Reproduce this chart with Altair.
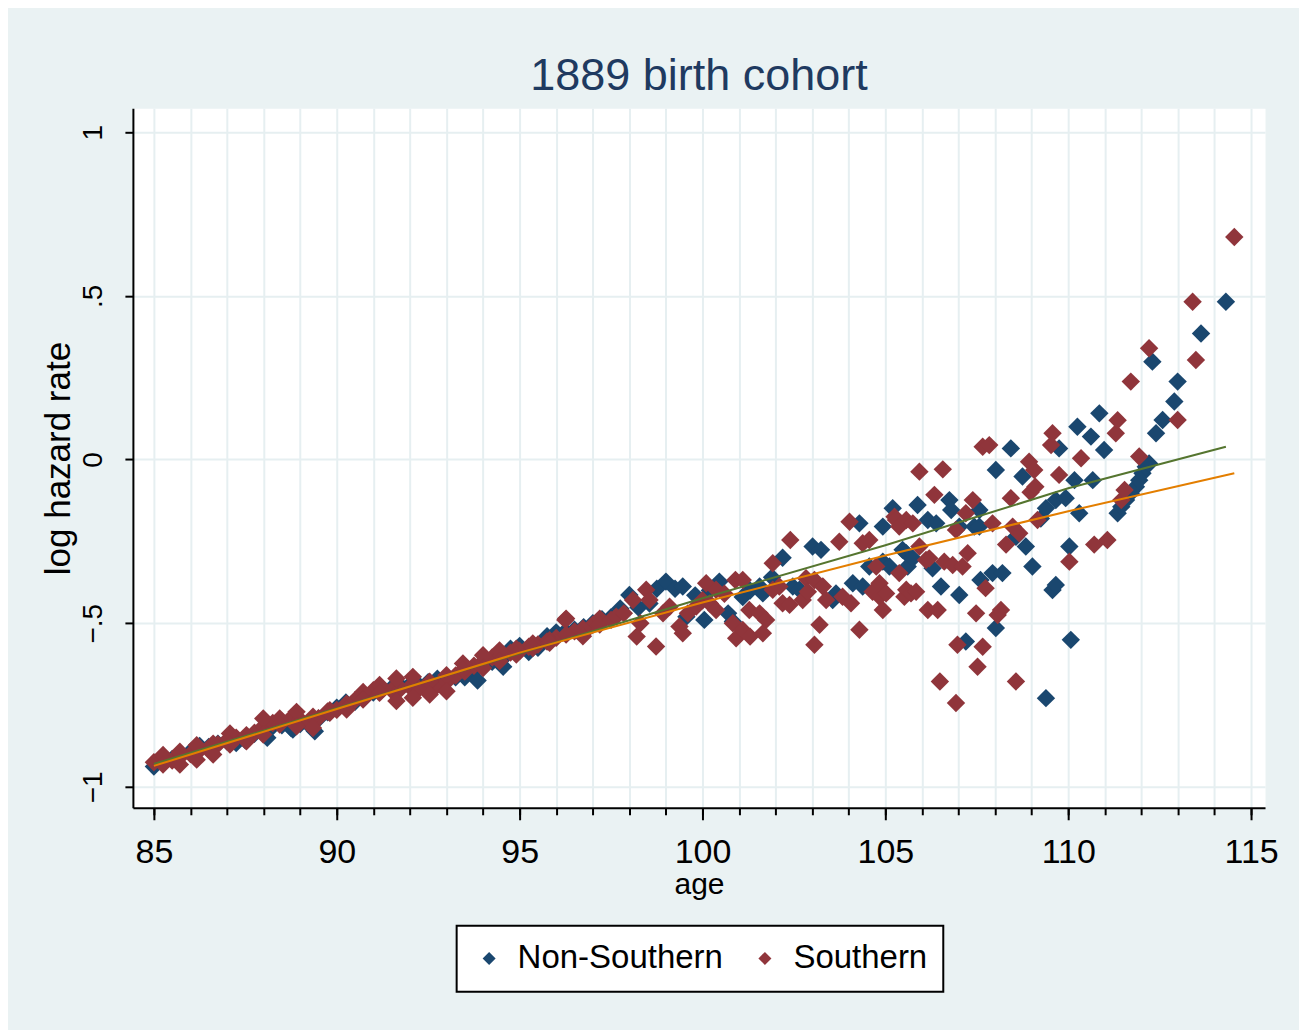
import altair as alt
import pandas as pd

# ---------------- data ----------------
groups = ["Non-Southern", "Southern"]
group_colors = ["#1a476f", "#90353b"]

ns_points = [
    (85.0, -0.938), (85.25, -0.922), (85.5, -0.915), (85.75, -0.902), (86.0, -0.893), (86.25, -0.875),
    (86.5, -0.878), (86.75, -0.868), (87.0, -0.862), (87.25, -0.866), (87.5, -0.858), (87.75, -0.838),
    (88.0, -0.828), (88.1, -0.850), (88.25, -0.815), (88.5, -0.812), (88.75, -0.820), (88.8, -0.825),
    (89.0, -0.808), (89.25, -0.812), (89.4, -0.830), (89.5, -0.792), (89.75, -0.772), (90.0, -0.758),
    (90.25, -0.742), (90.5, -0.740), (90.75, -0.728), (91.0, -0.712), (91.25, -0.702), (91.5, -0.698),
    (91.75, -0.692), (92.0, -0.688), (92.25, -0.690), (92.5, -0.680), (92.75, -0.670), (93.0, -0.668),
    (93.25, -0.665), (93.5, -0.665), (93.75, -0.645), (93.85, -0.675), (94.0, -0.628), (94.25, -0.618),
    (94.5, -0.612), (94.55, -0.633), (94.75, -0.578), (95.0, -0.570), (95.25, -0.588), (95.5, -0.575),
    (95.75, -0.540), (96.0, -0.528), (96.25, -0.525), (96.5, -0.520), (96.75, -0.512), (97.0, -0.500),
    (97.25, -0.488), (97.5, -0.482), (97.75, -0.455),
    (98.0, -0.414), (98.25, -0.452), (98.55, -0.440), (98.75, -0.395), (99.0, -0.373), (99.25, -0.395),
    (99.46, -0.388), (99.56, -0.480), (99.8, -0.415), (100.05, -0.490), (100.2, -0.400), (100.46, -0.373),
    (100.7, -0.470), (100.83, -0.495), (101.1, -0.420), (101.3, -0.400), (101.56, -0.388), (101.65, -0.409),
    (101.9, -0.360), (102.19, -0.300), (102.47, -0.388), (102.65, -0.398), (103.01, -0.266), (103.24, -0.276),
    (103.56, -0.429), (103.65, -0.409), (104.11, -0.378), (104.29, -0.195), (104.38, -0.388), (104.56, -0.327),
    (104.93, -0.205), (104.93, -0.312), (105.11, -0.327), (105.2, -0.149), (105.47, -0.276), (105.57, -0.286),
    (105.61, -0.327), (105.75, -0.302), (105.88, -0.139), (106.16, -0.185), (106.29, -0.332), (106.39, -0.195),
    (106.52, -0.388), (106.75, -0.124), (106.8, -0.154), (107.02, -0.205), (107.02, -0.414), (107.2, -0.556),
    (107.43, -0.205), (107.57, -0.154), (107.57, -0.205), (107.6, -0.368), (107.93, -0.347), (108.02, -0.515),
    (108.02, -0.032), (108.2, -0.347), (108.43, 0.034), (108.57, -0.236), (108.75, -0.052), (108.84, -0.266),
    (109.02, -0.327), (109.25, -0.180), (109.39, -0.149), (109.39, -0.729), (109.57, -0.399), (109.66, -0.383),
    (109.66, -0.124), (109.75, 0.034), (109.93, -0.118), (110.03, -0.266), (110.07, -0.551), (110.17, -0.063),
    (110.25, 0.100), (110.3, -0.164), (110.62, 0.070), (110.67, -0.063), (110.85, 0.141), (110.98, 0.029),
    (111.35, -0.164), (111.45, -0.144), (111.58, -0.124), (111.71, -0.103), (111.85, -0.083), (111.94, -0.063),
    (112.03, -0.042), (112.12, -0.022), (112.21, -0.012), (112.3, 0.299), (112.4, 0.080), (112.58, 0.121),
    (112.9, 0.177), (112.99, 0.238), (113.63, 0.385), (114.31, 0.482),
]

s_points = [
    (85.0, -0.925), (85.25, -0.915), (85.5, -0.920), (85.75, -0.905), (86.0, -0.900), (86.25, -0.888),
    (86.5, -0.885), (86.75, -0.870), (87.0, -0.858), (87.25, -0.850), (87.5, -0.850), (87.75, -0.835),
    (88.0, -0.815), (88.25, -0.805), (88.5, -0.800), (88.75, -0.790), (89.0, -0.795), (89.25, -0.800),
    (89.5, -0.790), (89.75, -0.770), (90.0, -0.765), (90.25, -0.752), (90.5, -0.735), (90.75, -0.722),
    (91.0, -0.705), (91.25, -0.700), (91.5, -0.705), (91.75, -0.700), (92.0, -0.695), (92.25, -0.700),
    (92.5, -0.700), (92.75, -0.690), (93.0, -0.680), (93.25, -0.660), (93.5, -0.648), (93.75, -0.630),
    (94.0, -0.617), (94.25, -0.605), (94.5, -0.598), (94.75, -0.590), (95.0, -0.585), (95.25, -0.572),
    (95.5, -0.565), (95.75, -0.556), (96.0, -0.545), (96.25, -0.490), (96.5, -0.525), (96.75, -0.530),
    (97.0, -0.505), (97.25, -0.495),
    # upper edge of the dense band
    (85.25, -0.903), (85.71, -0.893), (86.17, -0.873), (86.62, -0.868), (87.08, -0.837), (87.53, -0.842),
    (87.99, -0.791), (88.44, -0.791), (88.9, -0.771), (89.35, -0.786), (89.81, -0.766), (90.27, -0.746),
    (90.72, -0.710), (91.17, -0.689), (91.63, -0.669), (92.08, -0.664), (92.54, -0.679), (93.0, -0.659),
    (93.45, -0.623), (94.0, -0.598), (94.45, -0.583), (94.91, -0.578), (95.36, -0.562), (95.82, -0.552),
    (96.27, -0.486), (96.73, -0.517), (97.19, -0.486),
    # lower edge of the dense band
    (85.25, -0.932), (85.71, -0.932), (86.17, -0.917), (86.62, -0.901), (87.08, -0.871), (87.53, -0.861),
    (87.99, -0.840), (88.44, -0.810), (88.9, -0.815), (89.35, -0.820), (89.81, -0.774), (90.27, -0.764),
    (90.72, -0.733), (91.17, -0.713), (91.63, -0.738), (92.08, -0.728), (92.54, -0.718), (93.0, -0.708),
    (93.45, -0.642), (94.0, -0.637), (94.45, -0.616), (94.91, -0.596), (95.36, -0.576), (95.82, -0.560),
    (96.27, -0.535), (96.73, -0.540), (97.19, -0.504),
    # scattered part
    (97.5, -0.490), (97.64, -0.480), (97.85, -0.470), (98.1, -0.429), (98.2, -0.541), (98.3, -0.500),
    (98.46, -0.398), (98.55, -0.429), (98.73, -0.571), (98.92, -0.470), (99.1, -0.450), (99.37, -0.510),
    (99.46, -0.531), (99.6, -0.470), (99.83, -0.449), (100.0, -0.430), (100.1, -0.378), (100.2, -0.440),
    (100.37, -0.398), (100.37, -0.460), (100.6, -0.410), (100.83, -0.500), (100.9, -0.368), (100.92, -0.546),
    (101.1, -0.521), (101.1, -0.368), (101.28, -0.460), (101.3, -0.541), (101.56, -0.470), (101.65, -0.531),
    (101.74, -0.490), (101.92, -0.317), (101.92, -0.398), (102.1, -0.388), (102.19, -0.439), (102.4, -0.246),
    (102.38, -0.444), (102.74, -0.429), (102.83, -0.363), (102.88, -0.404), (103.06, -0.368), (103.06, -0.566),
    (103.2, -0.505), (103.29, -0.388), (103.38, -0.429), (103.74, -0.251), (103.83, -0.419), (104.02, -0.190),
    (104.06, -0.439), (104.29, -0.520), (104.38, -0.256), (104.56, -0.246), (104.65, -0.404), (104.75, -0.327),
    (104.84, -0.378), (104.84, -0.419), (104.93, -0.460), (105.02, -0.409), (105.25, -0.175), (105.29, -0.185),
    (105.38, -0.205), (105.38, -0.347), (105.52, -0.419), (105.57, -0.185), (105.57, -0.398), (105.7, -0.409),
    (105.75, -0.195), (105.84, -0.404), (105.93, -0.037), (105.93, -0.266), (106.11, -0.307), (106.16, -0.460),
    (106.2, -0.302), (106.34, -0.108), (106.43, -0.460), (106.49, -0.678), (106.57, -0.030), (106.61, -0.312),
    (106.84, -0.322), (106.93, -0.215), (106.93, -0.744), (106.97, -0.566), (107.11, -0.327), (107.2, -0.164),
    (107.25, -0.286), (107.39, -0.124), (107.48, -0.470), (107.52, -0.633), (107.66, 0.039), (107.66, -0.572),
    (107.74, -0.393), (107.84, 0.044), (107.93, -0.195), (108.07, -0.475), (108.16, -0.460), (108.3, -0.260),
    (108.43, -0.118), (108.48, -0.205), (108.57, -0.678), (108.66, -0.225), (108.93, -0.007), (108.97, -0.100),
    (109.07, -0.032), (109.1, -0.083), (109.16, -0.185), (109.53, 0.044), (109.57, 0.080), (109.75, -0.047),
    (110.03, -0.312), (110.35, 0.004), (110.71, -0.260), (111.07, -0.246), (111.3, 0.080), (111.35, 0.120),
    (111.45, -0.124), (111.54, -0.093), (111.71, 0.238), (111.94, 0.009), (112.21, 0.340), (112.99, 0.121),
    (113.4, 0.482), (113.49, 0.304), (114.54, 0.680),
]

fit_ns_age = [85.0, 90.0, 95.0, 100.0, 105.0, 110.0, 114.31]
fit_ns_val = [-0.930, -0.760, -0.592, -0.424, -0.262, -0.088, 0.039]
fit_s_age = [85.0, 90.0, 95.0, 100.0, 105.0, 110.0, 114.54]
fit_s_val = [-0.936, -0.762, -0.590, -0.437, -0.293, -0.158, -0.042]

x_major_ticks = [85, 90, 95, 100, 105, 110, 115]
x_minor_ticks = list(range(85, 116))
y_ticks = [-1, -0.5, 0, 0.5, 1]

# ---------------- build tables ----------------
pts = pd.DataFrame({
    "age": [p[0] for p in ns_points] + [p[0] for p in s_points],
    "lhr": [p[1] for p in ns_points] + [p[1] for p in s_points],
    "group": [groups[0]] * len(ns_points) + [groups[1]] * len(s_points),
})
fit_ns = pd.DataFrame({"age": fit_ns_age, "lhr": fit_ns_val})
fit_s = pd.DataFrame({"age": fit_s_age, "lhr": fit_s_val})

font = "Liberation Sans, Arial, Helvetica, sans-serif"

xs = alt.Scale(domain=[84.426, 115.38], nice=False, zero=False)
ys = alt.Scale(domain=[-1.064, 1.073], nice=False, zero=False)

y_axis = alt.Axis(
    values=y_ticks, title="log hazard rate", tickSize=8, labelAngle=270,
    labelExpr="replace(format(datum.value, '.1~f'), '0.', '.')",
    grid=True, labelPadding=17, titlePadding=3, labelFontSize=28, titleFontSize=35,
)
x_major = alt.Axis(
    values=x_major_ticks, title="age", tickSize=12, grid=False, orient="bottom",
    labelPadding=16, titlePadding=0, labelFontSize=34, titleFontSize=30,
)
x_minor = alt.Axis(
    values=x_minor_ticks, title=None, tickSize=7, grid=True, labels=False,
    domain=False, orient="bottom",
)

points = alt.Chart(pts).mark_point(
    shape="diamond", filled=True, size=340, opacity=1, strokeWidth=0
).encode(
    x=alt.X("age:Q", scale=xs, axis=x_major),
    y=alt.Y("lhr:Q", scale=ys, axis=y_axis),
    color=alt.Color(
        "group:N",
        scale=alt.Scale(domain=groups, range=group_colors),
        legend=alt.Legend(
            title=None, orient="none", legendX=324, legendY=818, direction="horizontal",
            symbolType="diamond", symbolSize=170, symbolStrokeWidth=0,
            labelFontSize=33, labelFont=font, labelColor="black", labelLimit=500,
            fillColor="white", strokeColor="black", padding=16,
            columnPadding=25, labelOffset=12,
        ),
    ),
)

green = alt.Chart(fit_ns).mark_line(color="#55752f", strokeWidth=2).encode(
    x=alt.X("age:Q", scale=xs, axis=x_minor),
    y=alt.Y("lhr:Q", scale=ys, axis=y_axis),
)
orange = alt.Chart(fit_s).mark_line(color="#e37e00", strokeWidth=2).encode(
    x=alt.X("age:Q", scale=xs, axis=None),
    y=alt.Y("lhr:Q", scale=ys, axis=y_axis),
)

chart = alt.layer(points, green, orange).resolve_axis(x="independent").properties(
    width=1133, height=700,
    autosize=alt.AutoSizeParams(type="none"),
    padding={"left": 125, "top": 100, "right": 34, "bottom": 222},
    title=alt.TitleParams(
        "1889 birth cohort", fontSize=45, font=font, color="#1f3a60",
        fontWeight="normal", anchor="middle", offset=9,
    ),
).configure(
    background="#eaf2f3",
).configure_view(
    fill="white", stroke="transparent",
).configure_axis(
    domainColor="black", domainWidth=2, tickColor="black", tickWidth=2,
    labelColor="black", titleColor="black", labelFont=font, titleFont=font,
    titleFontWeight="normal", gridColor="#e6eff1", gridWidth=2,
).configure_legend(strokeWidth=2)

chart.save("out.html", embed_options={"renderer": "svg", "actions": False})
